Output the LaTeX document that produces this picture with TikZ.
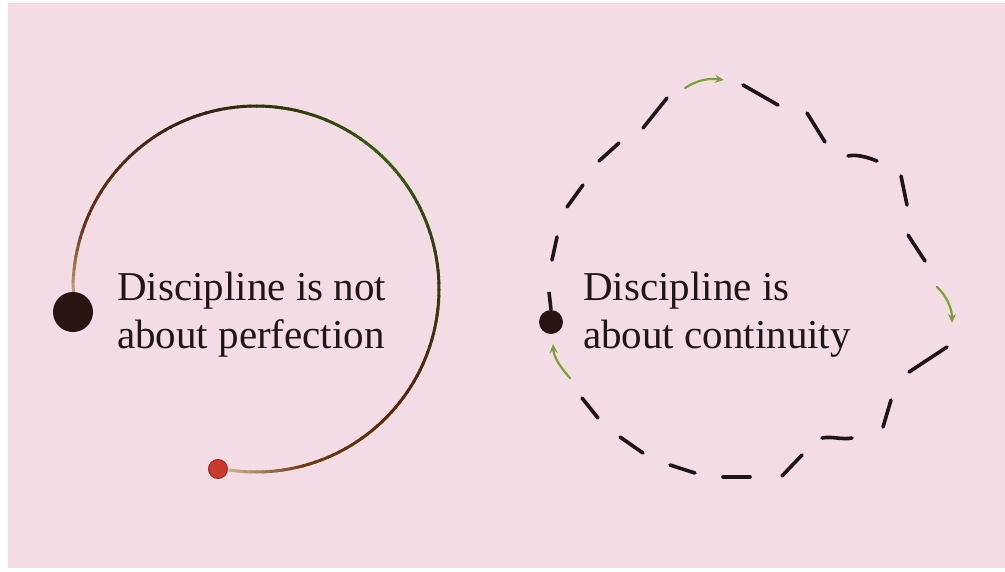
\documentclass[tikz,border=0pt]{standalone}
\usepackage{fontspec}
\setmainfont{Liberation Serif}
\usetikzlibrary{arrows.meta}
\definecolor{bgpink}{HTML}{F3DCE6}
\definecolor{inkc}{HTML}{1E1616}
\definecolor{dotc}{HTML}{2A1412}
\definecolor{dashc}{HTML}{1E1616}
\definecolor{greenc}{HTML}{7E9A4E}
\definecolor{glowc}{HTML}{EEEAC8}
\definecolor{redc}{HTML}{C93A2E}
\definecolor{redd}{HTML}{9E2A22}
\definecolor{arcA}{HTML}{BE9A7C}
\definecolor{arcB}{HTML}{6B2E1C}
\definecolor{arcC}{HTML}{33201A}
\definecolor{arcD}{HTML}{333414}
\definecolor{arcE}{HTML}{3A5C1E}
\definecolor{arcF}{HTML}{36361A}
\definecolor{arcG}{HTML}{5A2412}
\definecolor{arcH}{HTML}{6E3A20}
\definecolor{arcI}{HTML}{CDAA8C}
\tikzset{
  arcline/.style={line width=3pt},
  dashseg/.style={draw=dashc, line width=3.6pt, line cap=round},
  garrow/.style={draw=greenc, line width=2.2pt, line cap=round,
    -{Stealth[length=9pt,width=8pt]},
    preaction={draw=glowc, line width=5pt, -}},
  bigtext/.style={font=\fontsize{41}{48}\selectfont, text=inkc, align=left, inner sep=0pt, anchor=base west},
}
\begin{document}
\begin{tikzpicture}[x=1pt,y=-1pt]
\useasboundingbox (0,0) rectangle (1005,571);
\fill[white] (0,0) rectangle (1005,571);
\fill[bgpink] (8,3) rectangle (1005,568);

% ---------- left: arc ----------
\coordinate (c1) at (256,289);
\draw[glowc, line width=5pt, opacity=0.6] (c1) ++(-180:183) arc[start angle=-180, end angle=98, radius=183];
\foreach \a/\b/\ca/\cb in {-180/-160/arcA/arcB, -160/-110/arcB/arcC, -110/-80/arcC/arcD, -80/-45/arcD/arcE, -45/-10/arcE/arcF, -10/40/arcF/arcG, 40/75/arcG/arcH, 75/98/arcH/arcI}{
  \pgfmathtruncatemacro{\n}{(\b-\a)/2}
  \foreach \k in {1,...,\n}{
    \pgfmathsetmacro{\s}{\a+(\k-1)*(\b-\a)/\n}
    \pgfmathsetmacro{\e}{\a+\k*(\b-\a)/\n+0.4}
    \pgfmathsetmacro{\p}{100-100*(\k-0.5)/\n}
    \draw[arcline, color=\ca!\p!\cb] (c1) ++(\s:183) arc[start angle=\s, end angle=\e, radius=183];
  }
}
\node[circle, fill=dotc, minimum size=40pt, inner sep=0pt] (d1) at (73,312) {};
\draw[arcline, arcA] (d1.north) -- (73,288);
\node[circle, fill=redc, draw=redd, line width=1pt, minimum size=19pt, inner sep=0pt] (d3) at (218,469) {};
\node[bigtext] (t1) at (117,348) {Discipline is not\\about perfection};

% ---------- right: dashed loop ----------
\node[circle, fill=dotc, minimum size=24pt, inner sep=0pt] (d2) at (551,322) {};
\coordinate (stk) at (549,292);
\draw[dashseg, line cap=butt] (d2.north) -- (stk);
\draw[dashseg] (552,260) -- (557,237);
\draw[dashseg] (567,207) -- (583,185);
\draw[dashseg] (599,161) -- (619,143);
\draw[dashseg] (643,128) -- (667,98);
\draw[dashseg] (743,85) -- (778,105);
\draw[dashseg] (807,113) -- (825,142);
\draw[dashseg] (848,156) .. controls (856,154) and (867,157) .. (877,161);
\draw[dashseg] (901,176) -- (907,205);
\draw[dashseg] (908,235) -- (925,261);
\draw[dashseg] (909,372) -- (947,347);
\draw[dashseg] (883,427) -- (891,400);
\draw[dashseg] (822,438) .. controls (832,436) and (842,440) .. (852,438);
\draw[dashseg] (782,476) -- (802,455);
\draw[dashseg] (723,477) -- (750,477);
\draw[dashseg] (670,465) -- (695,473);
\draw[dashseg] (620,437) -- (643,453);
\draw[dashseg] (582,398) -- (598,418);

\coordinate (ga1) at (685,88);  \coordinate (gb1) at (724,80);
\coordinate (ga2) at (937,287); \coordinate (gb2) at (952,323);
\coordinate (ga3) at (570,378); \coordinate (gb3) at (553,344);
\draw[garrow] (ga1) .. controls (697,80) and (709,78) .. (gb1);
\draw[garrow] (ga2) .. controls (946,295) and (952,308) .. (gb2);
\draw[garrow] (ga3) .. controls (561,368) and (554,358) .. (gb3);

\node[bigtext] (t2) at (583,348) {Discipline is\\about continuity};
\end{tikzpicture}
\end{document}
